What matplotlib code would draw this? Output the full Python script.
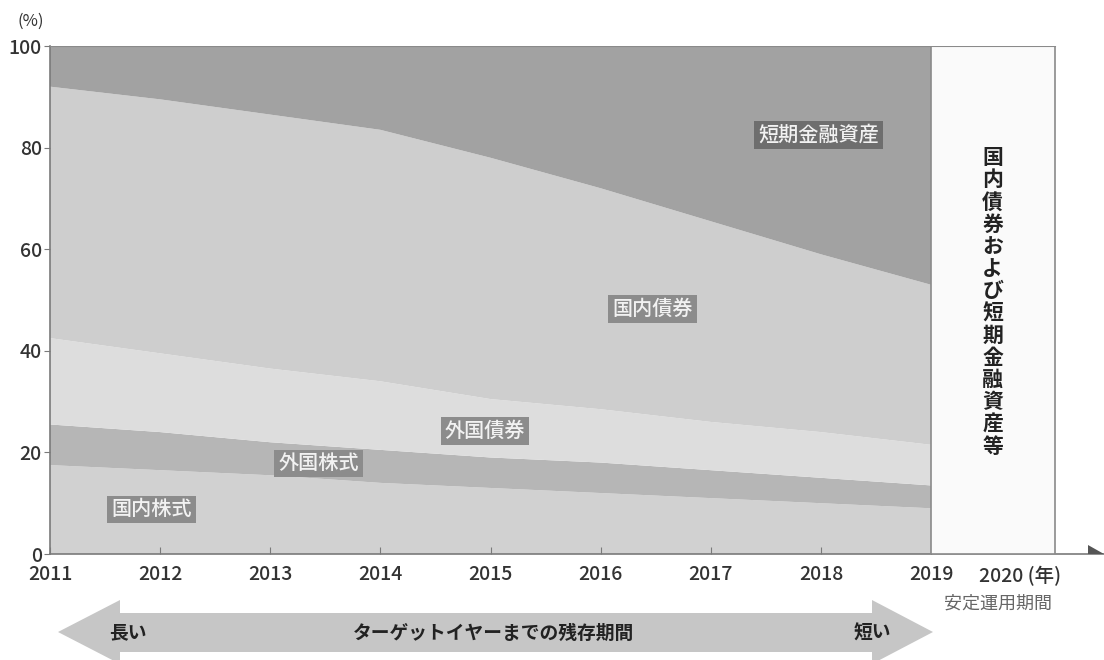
import matplotlib.pyplot as plt
from matplotlib.patches import Polygon, Rectangle
import numpy as np

plt.rcParams['font.family'] = ['Noto Sans CJK JP', 'DejaVu Sans']

# data (% share by asset class)
years = [2011, 2012, 2013, 2014, 2015, 2016, 2017, 2018, 2019]
dom_stock = [17.5, 16.5, 15.5, 14.0, 13.0, 12.0, 11.0, 10.0, 9.0]
for_stock = [8.0, 7.5, 6.5, 6.5, 6.0, 6.0, 5.5, 5.0, 4.5]
for_bond = [17.0, 15.5, 14.5, 13.5, 11.5, 10.5, 9.5, 9.0, 8.0]
dom_bond = [49.5, 50.0, 50.0, 49.5, 47.5, 43.5, 39.5, 35.0, 31.5]
short_term = [8.0, 10.5, 13.5, 16.5, 22.0, 28.0, 34.5, 41.0, 47.0]

area_colors = ['#d1d1d1', '#b6b6b6', '#dddddd', '#cecece', '#a2a2a2']
year_labels = [str(y) for y in years]

W, H = 1104, 660
def fx(x):
    return x / W
def fy(y):
    return 1 - y / H

fig = plt.figure(figsize=(W / 100, H / 100), dpi=100)
ax = fig.add_axes([fx(50), fy(554), 1 - fx(50), fy(46) - fy(554)])

ax.stackplot(years, dom_stock, for_stock, for_bond, dom_bond, short_term,
             colors=area_colors, linewidth=0)

px_per_year = 110.125
ax.set_xlim(2011, 2011 + (W - 50) / px_per_year)
ax.set_ylim(0, 100)
box_right = 2011 + (1055 - 50) / px_per_year

# stable period box
ax.add_patch(Rectangle((2019, 0), box_right - 2019, 100, facecolor='#fafafa',
                       edgecolor='#8a8a8a', lw=1.2, zorder=3))
ax.plot([2011, box_right], [100, 100], color='#8a8a8a', lw=1.5, zorder=4)

for s in ['top', 'right']:
    ax.spines[s].set_visible(False)
ax.spines['left'].set_color('#7a7a7a')
ax.spines['bottom'].set_color('#7a7a7a')
ax.spines['left'].set_linewidth(1.2)
ax.spines['bottom'].set_linewidth(1.2)

ax.set_xticks(years)
ax.set_xticklabels(year_labels)
ax.set_yticks(np.arange(0, 101, 20))
ax.tick_params(axis='x', direction='in', length=5, color='#7a7a7a', pad=8,
               labelsize=14, labelcolor='#333333')
ax.tick_params(axis='y', direction='out', length=4, color='#7a7a7a', pad=2,
               labelsize=14, labelcolor='#333333')
for t in ax.get_yticklabels():
    t.set_va('center_baseline')
for t in ax.get_xticklabels() + ax.get_yticklabels():
    t.set_fontweight('medium')

# axis arrowhead
fig.patches.append(Polygon([(fx(1088), fy(545)), (fx(1088), fy(554)), (fx(1104), fy(554))],
                           closed=True, transform=fig.transFigure, facecolor='#555555',
                           edgecolor='none'))

fig.text(fx(31), fy(21), '(%)', ha='center', va='center', fontsize=12, color='#333333')
fig.text(fx(979), fy(576), '2020 (年)', ha='left', va='center', fontsize=14,
         fontweight='medium', color='#333333')
fig.text(fx(998), fy(604), '安定運用期間', ha='center', va='center', fontsize=13, color='#666666')

# labels on areas
box = dict(boxstyle='square,pad=0.2', facecolor='#8c8c8c', edgecolor='none')
ax.text(2017.98, 82.5, '短期金融資産', ha='center', va='center', fontsize=14.5,
        color='#f2f2f2', fontweight='medium',
        bbox=dict(boxstyle='square,pad=0.2', facecolor='#6e6e6e', edgecolor='none'))
ax.text(2016.47, 48.2, '国内債券', ha='center', va='center', fontsize=14.5, color='#f2f2f2',
        fontweight='medium', bbox=box)
ax.text(2014.95, 24.2, '外国債券', ha='center', va='center', fontsize=14.5, color='#f2f2f2',
        fontweight='medium', bbox=box)
ax.text(2013.44, 17.9, '外国株式', ha='center', va='center', fontsize=14.5, color='#f2f2f2',
        fontweight='medium', bbox=box)
ax.text(2011.92, 8.7, '国内株式', ha='center', va='center', fontsize=14.5, color='#f2f2f2',
        fontweight='medium', bbox=box)

vert = '国内債券および短期金融資産等'
ax.text(2019.56, 49.6, '\n'.join(vert), ha='center', va='center', fontsize=15,
        fontweight='bold', color='#222222', linespacing=1.07, zorder=5)

# bottom double arrow
arrow_pts = [(58, 632), (120, 600), (120, 613), (872, 613), (872, 600), (933, 632),
             (872, 664), (872, 652), (120, 652), (120, 664)]
fig.patches.append(Polygon([(fx(x), fy(y)) for x, y in arrow_pts], closed=True,
                           transform=fig.transFigure, facecolor='#c6c6c6', edgecolor='none'))
fig.text(fx(128), fy(633), '長い', ha='center', va='center', fontsize=13.5, fontweight='bold', color='#222222')
fig.text(fx(494), fy(633), 'ターゲットイヤーまでの残存期間', ha='center', va='center', fontsize=13.5,
         fontweight='bold', color='#222222')
fig.text(fx(872), fy(633), '短い', ha='center', va='center', fontsize=13.5, fontweight='bold', color='#222222')

fig.savefig('out.png', dpi=100)
